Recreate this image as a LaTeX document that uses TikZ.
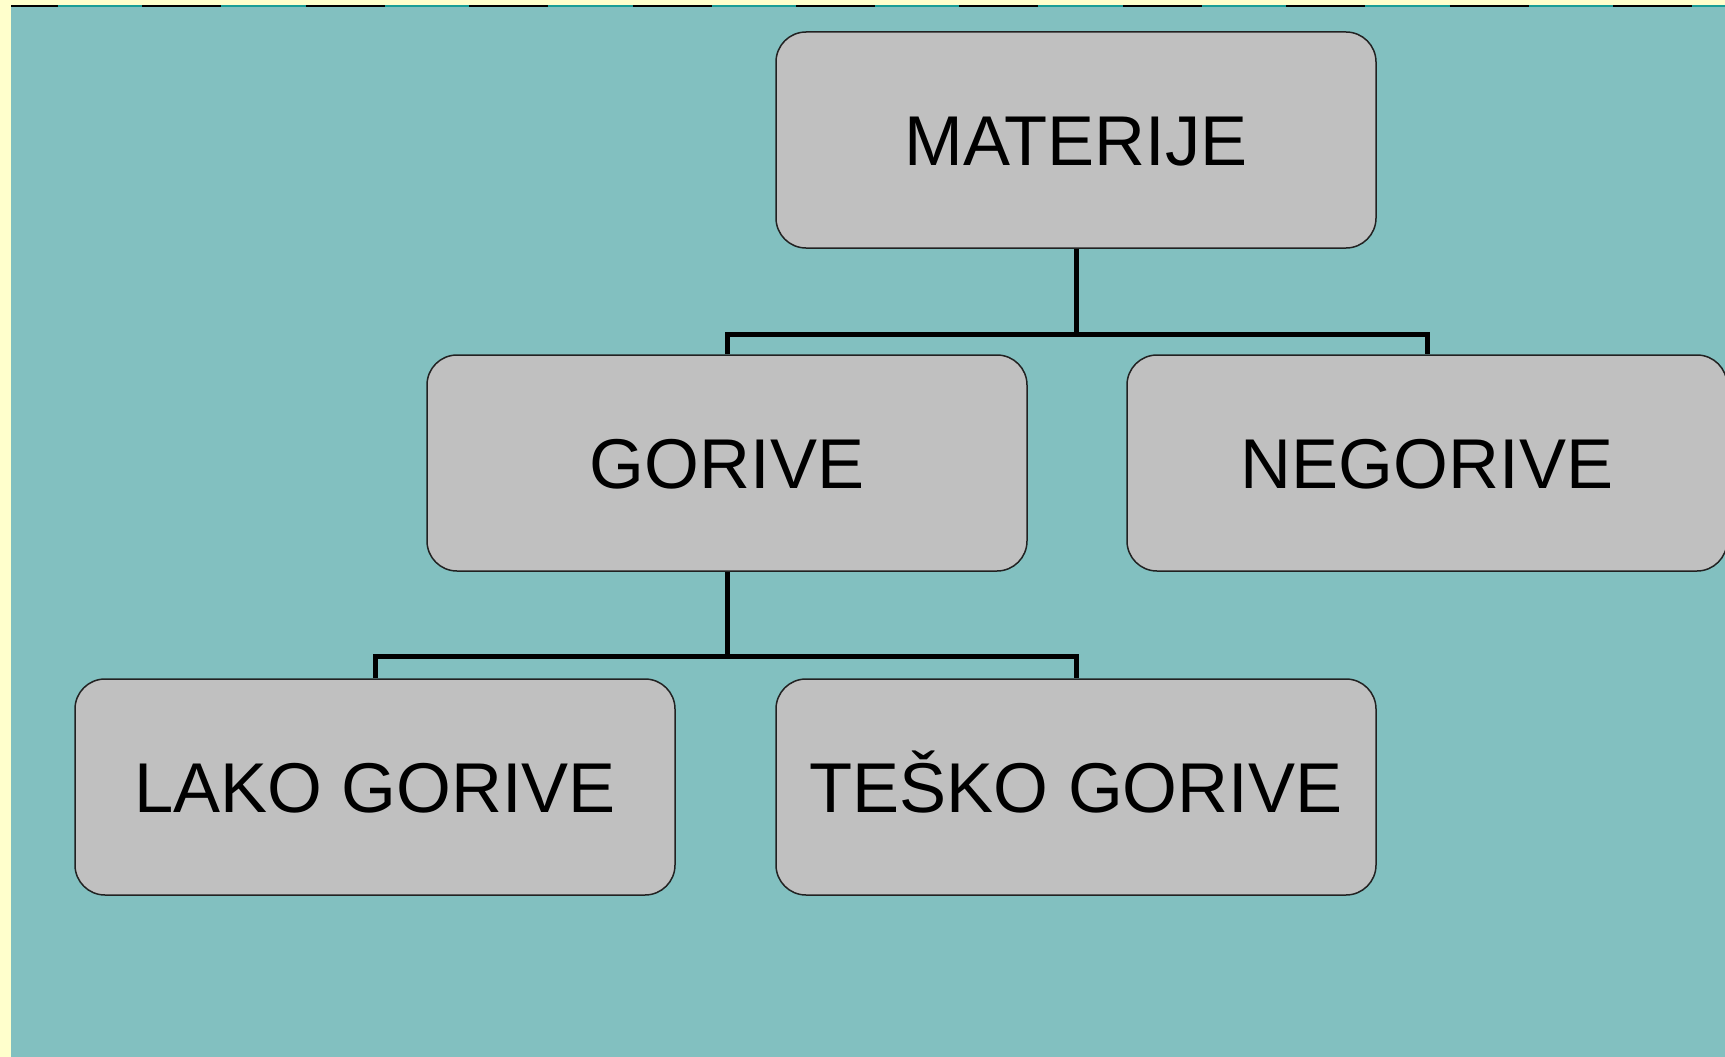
\documentclass[tikz,border=0pt]{standalone}
\usepackage{fontspec}
\setmainfont{Liberation Sans}
\definecolor{pagebg}{HTML}{FFFFCC}
\definecolor{panel}{HTML}{82C0C0}
\definecolor{edgeteal}{HTML}{1A9E96}
\definecolor{boxfill}{HTML}{C0C0C0}
\definecolor{boxline}{HTML}{222222}
\tikzset{
  orgbox/.style={draw=boxline, line width=1.5pt, fill=boxfill,
    rounded corners=30pt, minimum width=600pt, minimum height=216pt,
    inner sep=0pt, text height=50pt, text depth=0pt,
    font=\fontsize{70.5}{84}\selectfont, text=black},
  conn/.style={draw=black, line width=5pt, line join=miter}
}
\begin{document}
\begin{tikzpicture}[x=1pt,y=-1pt]
  % page and panel background
  \fill[pagebg] (0,0) rectangle (1725,1057);
  \useasboundingbox (0,0) rectangle (1725,1057);
  \fill[panel] (11,7) rectangle (1725,1057);
  % dashed top edge of the panel
  \draw[edgeteal, line width=2.5pt] (11,6) -- (1725,6);
  \draw[black, line width=2.5pt, dash pattern=on 79pt off 84.4pt, dash phase=32pt] (11,6) -- (1725,6);

  % boxes
  \node[orgbox] (mat) at (1076,140) {MATERIJE};
  \node[orgbox] (gor) at (727,463) {GORIVE};
  \node[orgbox] (neg) at (1427,463) {NEGORIVE};
  \node[orgbox] (lako) at (375,787) {LAKO GORIVE};
  \node[orgbox] (tesko) at (1076,787) {TEŠKO GORIVE};

  % connectors
  \draw[conn] (mat.south) -- ++(0,86) coordinate (j1);
  \draw[conn] (gor.north) |- (j1) -| (neg.north);
  \draw[conn] (gor.south) -- ++(0,85) coordinate (j2);
  \draw[conn] (lako.north) |- (j2) -| (tesko.north);
\end{tikzpicture}
\end{document}
